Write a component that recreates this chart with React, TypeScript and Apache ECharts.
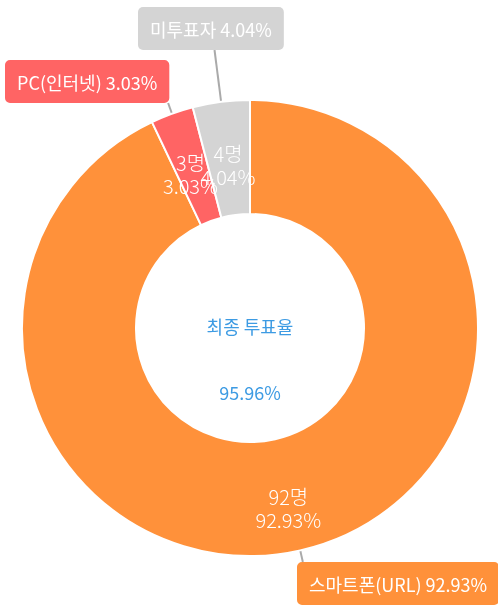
import React, { useEffect, useRef } from "react";
import * as echarts from "echarts";

const categories = ["스마트폰(URL)", "PC(인터넷)", "미투표자"];
const values = [92, 3, 4];
const colors = ["#FF913A", "#FF6464", "#D4D4D4"];
const centerTitle = "최종 투표율";
const centerValue = "95.96%";

const CX = 250;
const CY = 328;
const R_IN = 114;
const R_OUT = 228;
// label box anchors: [x, y, align, verticalAlign, line-end y]
const labelBoxes: [number, number, string, string, number][] = [
  [297, 562, "left", "top", 562],
  [5, 60, "left", "top", 103],
  [138, 7, "left", "top", 50],
];

const FONT = "'Noto Sans CJK KR', 'Noto Sans', sans-serif";

export default function App() {
  const ref = useRef<HTMLDivElement>(null);
  useEffect(() => {
    if (!ref.current) return;
    const chart = echarts.init(ref.current, undefined, { renderer: "svg" });
    const total = values.reduce((a, b) => a + b, 0);
    const midAngles: number[] = [];
    let acc = 0;
    values.forEach((v) => {
      midAngles.push(((acc + v / 2) / total) * Math.PI * 2);
      acc += v;
    });

    const data = categories.map((name, i) => ({
      name,
      value: values[i],
      itemStyle: { color: colors[i] },
      label: { backgroundColor: colors[i] },
    }));
    const dataInner = categories.map((name, i) => ({ name, value: values[i] }));

    chart.setOption({
      animation: false,
      textStyle: { fontFamily: FONT },
      graphic: [
        {
          type: "text",
          x: CX,
          y: CY - 2,
          style: {
            text: centerTitle,
            fill: "#3D9BE3",
            font: `18px ${FONT}`,
            align: "center",
            verticalAlign: "middle",
          },
        },
        {
          type: "text",
          x: CX,
          y: CY + 64,
          style: {
            text: centerValue,
            fill: "#3D9BE3",
            font: `18px ${FONT}`,
            align: "center",
            verticalAlign: "middle",
          },
        },
      ],
      series: [
        {
          type: "pie",
          center: [CX, CY],
          radius: [R_IN, R_OUT],
          startAngle: 90,
          clockwise: true,
          avoidLabelOverlap: false,
          itemStyle: { borderColor: "#fff", borderWidth: 2 },
          label: {
            show: true,
            position: "outside",
            formatter: "{b} {d}%",
            color: "#fff",
            fontSize: 18,
            lineHeight: 21,
            padding: [11, 12],
            borderRadius: 5,
            fontFamily: FONT,
          },
          labelLine: {
            show: true,
            length: 10,
            length2: 0,
            lineStyle: { color: "#aaa", width: 2 },
          },
          labelLayout: (params: any) => {
            const i = params.dataIndex;
            const b = labelBoxes[i];
            const a = midAngles[i];
            const dx = Math.sin(a);
            const dy = -Math.cos(a);
            const sx = CX + dx * R_OUT;
            const sy = CY + dy * R_OUT;
            const t = (b[4] - sy) / dy;
            const ex = sx + dx * t;
            const ey = b[4];
            return {
              x: b[0],
              y: b[1],
              align: b[2],
              verticalAlign: b[3],
              hideOverlap: false,
              labelLinePoints: [
                [sx, sy],
                [ex, ey],
                [ex, ey],
              ],
            };
          },
          data,
        },
        {
          type: "pie",
          center: [CX, CY],
          radius: [R_IN, R_OUT],
          startAngle: 90,
          clockwise: true,
          silent: true,
          avoidLabelOverlap: false,
          itemStyle: { color: "transparent", borderWidth: 0 },
          label: {
            show: true,
            position: "inside",
            formatter: "{c}명\n{d}%",
            color: "#fff",
            fontSize: 20,
            lineHeight: 23,
            fontWeight: 300,
            offset: [0, 10],
            fontFamily: FONT,
          },
          labelLayout: { hideOverlap: false, moveOverlap: false },
          labelLine: { show: false },
          data: dataInner,
        },
      ],
    });
    return () => chart.dispose();
  }, []);
  return (
    <div
      ref={ref}
      style={{ position: "fixed", left: 0, top: 0, width: 498, height: 607 }}
    />
  );
}
